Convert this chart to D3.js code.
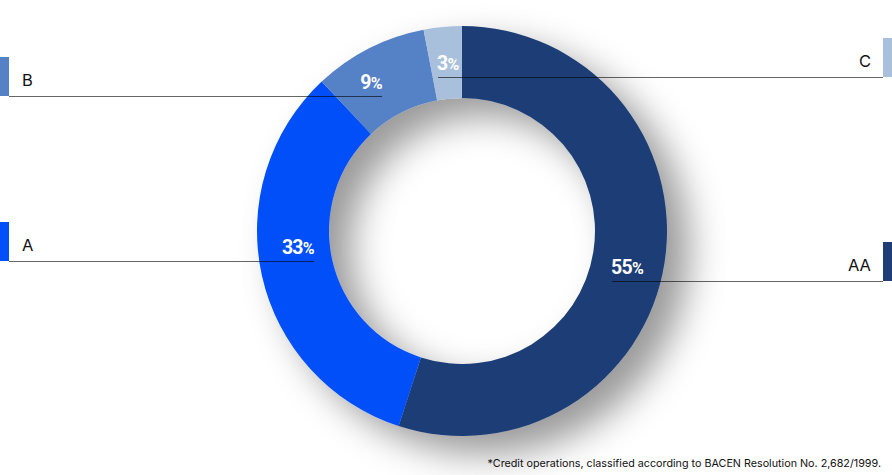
<!DOCTYPE html>
<html>
<head>
<meta charset="utf-8">
<script src="https://cdn.jsdelivr.net/npm/d3@7"></script>
<style>
  html, body { margin: 0; padding: 0; background: #fff; }
  svg { display: block; }
</style>
</head>
<body>
<svg id="chart" width="892" height="475"></svg>
<script>
// ---- data ----
const categories = ["AA", "A", "B", "C"];
const values = [55, 33, 9, 3];
const colors = ["#1f3e75", "#004ff9", "#5581c7", "#a9c0dc"];
const footnote = "*Credit operations, classified according to BACEN Resolution No. 2,682/1999.";

// ---- layout ----
const W = 892, H = 475;
const cx = 462, cy = 231, rOuter = 205, rInner = 133;

// legend placement per category (layout only)
const legendLayout = {
  AA: { side: "right", lineY: 281, lineX: 612 },
  A:  { side: "left",  lineY: 261, lineX: 314 },
  B:  { side: "left",  lineY: 96,  lineX: 382 },
  C:  { side: "right", lineY: 77,  lineX: 438 }
};

const svg = d3.select("#chart");
const defs = svg.append("defs");
const f = defs.append("filter").attr("id", "shadow")
  .attr("x", "-40%").attr("y", "-40%").attr("width", "180%").attr("height", "180%");
f.append("feDropShadow")
  .attr("dx", 22).attr("dy", 18).attr("stdDeviation", 18)
  .attr("flood-color", "#000").attr("flood-opacity", 0.4);

const data = categories.map((c, i) => ({ cat: c, value: values[i], color: colors[i] }));
const pie = d3.pie().sort(null).value(d => d.value);
const arc = d3.arc().innerRadius(rInner).outerRadius(rOuter);

const g = svg.append("g").attr("transform", `translate(${cx},${cy})`).attr("filter", "url(#shadow)");
g.selectAll("path").data(pie(data)).join("path")
  .attr("d", arc)
  .attr("fill", d => d.data.color);

// legend bars, labels and leader lines
const barW = 9, barH = 39;
data.forEach(d => {
  const L = legendLayout[d.cat];
  const left = L.side === "left";
  svg.append("rect").attr("x", left ? 0 : W - barW).attr("y", L.lineY - barH)
    .attr("width", barW).attr("height", barH).attr("fill", d.color);
  svg.append("line")
    .attr("x1", left ? barW : L.lineX).attr("x2", left ? L.lineX : W - barW)
    .attr("y1", L.lineY + 0.5).attr("y2", L.lineY + 0.5)
    .attr("stroke", "#000").attr("stroke-opacity", 0.6).attr("stroke-width", 1);
  svg.append("text").attr("x", left ? 22 : 871).attr("y", L.lineY - 10)
    .attr("text-anchor", left ? "start" : "end")
    .attr("font-family", "Inter, 'Liberation Sans', sans-serif").attr("font-size", 16.5)
    .attr("fill", "#111").text(d.cat);
  const t = svg.append("text")
    .attr("x", left ? L.lineX : L.lineX - 1).attr("y", L.lineY - 7)
    .attr("text-anchor", left ? "end" : "start")
    .attr("font-family", "Roboto, sans-serif").attr("font-weight", 700).attr("fill", "#fff")
    .attr("letter-spacing", -0.7);
  t.append("tspan").attr("font-size", 19.5).text(d.value);
  t.append("tspan").attr("font-size", 16).text("%");
});

// footnote
svg.append("text").attr("x", 881).attr("y", 467).attr("text-anchor", "end")
  .attr("font-family", "Inter, 'Liberation Sans', sans-serif").attr("font-size", 10.75)
  .attr("fill", "#111").text(footnote);
</script>
</body>
</html>
